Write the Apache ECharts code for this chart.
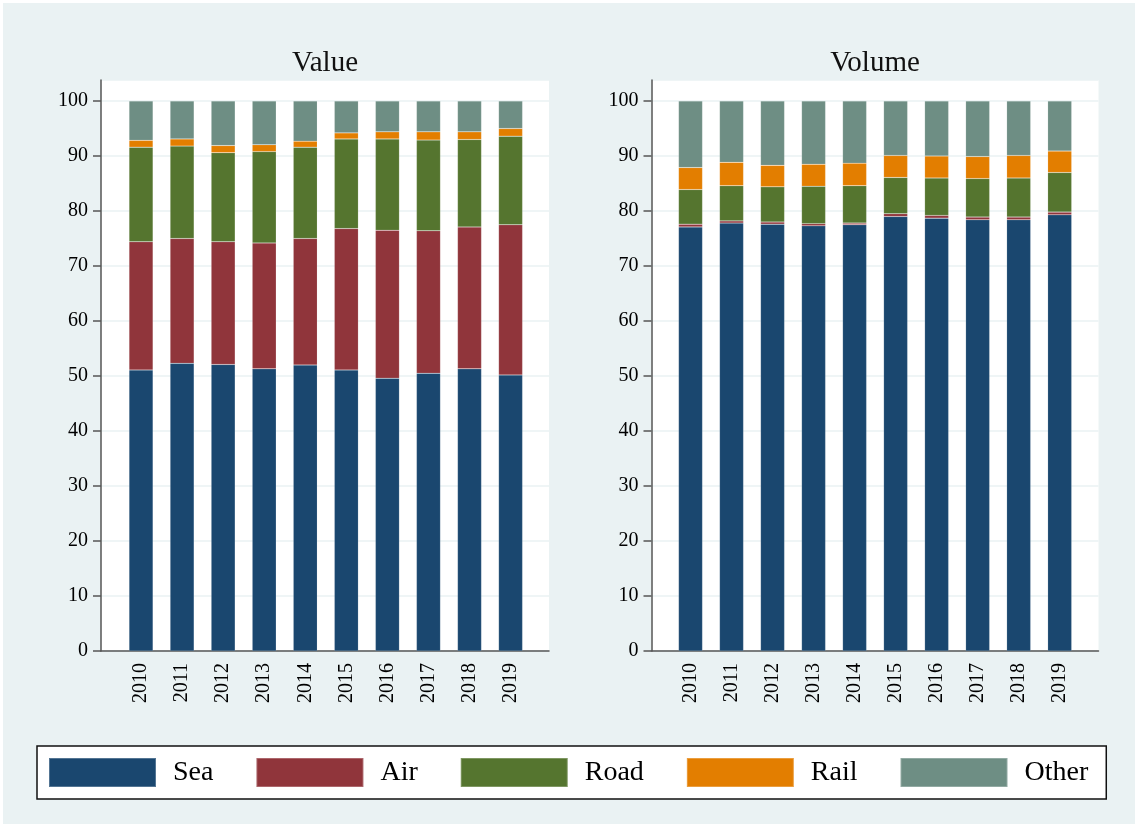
<!DOCTYPE html>
<html>
<head>
<meta charset="utf-8">
<script src="https://cdn.jsdelivr.net/npm/echarts@6/dist/echarts.min.js"></script>
<style>
  html, body { margin: 0; padding: 0; background: #ffffff; }
  #chart { position: absolute; left: 3px; top: 3px; width: 1132px; height: 821px; background: #eaf2f3; }
</style>
</head>
<body>
<div id="chart"></div>
<script>
// ---- data (shares, %) ----
var years = ['2010', '2011', '2012', '2013', '2014', '2015', '2016', '2017', '2018', '2019'];
var modes = ['Sea', 'Air', 'Road', 'Rail', 'Other'];
var yTicks = [0, 10, 20, 30, 40, 50, 60, 70, 80, 90, 100];

var valueSea   = [51.1, 52.3, 52.1, 51.3, 52.0, 51.1, 49.6, 50.5, 51.3, 50.2];
var valueAir   = [23.3, 22.7, 22.3, 22.9, 23.0, 25.7, 26.9, 25.9, 25.8, 27.3];
var valueRoad  = [17.2, 16.8, 16.2, 16.6, 16.6, 16.3, 16.6, 16.5, 15.9, 16.1];
var valueRail  = [1.25, 1.3, 1.3, 1.25, 1.1, 1.1, 1.3, 1.5, 1.4, 1.4];
var valueOther = [7.15, 6.9, 8.1, 7.95, 7.3, 5.8, 5.6, 5.6, 5.6, 5.0];

var volumeSea   = [77.1, 77.8, 77.6, 77.3, 77.5, 79.0, 78.7, 78.4, 78.4, 79.3];
var volumeAir   = [0.5, 0.4, 0.4, 0.4, 0.3, 0.5, 0.5, 0.5, 0.5, 0.5];
var volumeRoad  = [6.3, 6.4, 6.4, 6.8, 6.8, 6.6, 6.8, 7.0, 7.1, 7.2];
var volumeRail  = [4.0, 4.25, 3.9, 4.0, 4.1, 4.0, 4.0, 4.0, 4.1, 3.9];
var volumeOther = [12.1, 11.15, 11.7, 11.5, 11.3, 9.9, 10.0, 10.1, 9.9, 9.1];

var colors = ['#1a476f', '#90353b', '#55752f', '#e37e00', '#6e8e84'];

// ---- layout ----
var FONT = '"Liberation Serif", "DejaVu Serif", serif';
var AXIS_COLOR = '#555555';
var GRID_COLOR = '#eaf2f3';
var plotTop = 77, plotBottom = 648;         // frame (white plot region)
var dataTop = 98;                           // y = 100 position
var frameMax = 100 * (plotBottom - plotTop) / (plotBottom - dataTop);

var panels = [
  { title: 'Value',  frameLeft: 98,    frameWidth: 448, dataLeft: 117.5, dataWidth: 410.6,
    data: [valueSea, valueAir, valueRoad, valueRail, valueOther] },
  { title: 'Volume', frameLeft: 648.5, frameWidth: 447, dataLeft: 667,   dataWidth: 410.2,
    data: [volumeSea, volumeAir, volumeRoad, volumeRail, volumeOther] }
];

var grids = [], xAxes = [], yAxes = [], series = [], titles = [];

panels.forEach(function (p, pi) {
  var fi = pi * 2, di = pi * 2 + 1;
  grids.push({ left: p.frameLeft, width: p.frameWidth, top: plotTop, height: plotBottom - plotTop,
               show: true, backgroundColor: '#ffffff', borderWidth: 0 });
  grids.push({ left: p.dataLeft, width: p.dataWidth, top: dataTop, height: plotBottom - dataTop,
               show: false });

  xAxes.push({ gridIndex: fi, type: 'value', min: 0, max: 1,
    axisLine: { show: true, lineStyle: { color: AXIS_COLOR, width: 1.5 } },
    axisTick: { show: false }, axisLabel: { show: false }, splitLine: { show: false } });
  xAxes.push({ gridIndex: di, type: 'category', data: years, boundaryGap: true,
    axisLine: { show: false }, axisTick: { show: false }, splitLine: { show: false },
    axisLabel: { rotate: 90, margin: 12, fontFamily: FONT, fontSize: 20, color: '#000000', interval: 0 } });

  yAxes.push({ gridIndex: fi, type: 'value', min: 0, max: frameMax, interval: 10,
    axisLine: { show: true, lineStyle: { color: AXIS_COLOR, width: 1.5 } },
    axisTick: { show: false }, axisLabel: { show: false },
    splitLine: { show: true, lineStyle: { color: GRID_COLOR, width: 1.5 } } });
  yAxes.push({ gridIndex: di, type: 'value', min: 0, max: 100, interval: 10,
    offset: p.dataLeft - p.frameLeft,
    axisLine: { show: false },
    axisTick: { show: true, length: 8, lineStyle: { color: AXIS_COLOR, width: 1.5 } },
    axisLabel: { margin: 13, fontFamily: FONT, fontSize: 20, color: '#000000' },
    splitLine: { show: false } });

  titles.push({ text: p.title, left: p.frameLeft + p.frameWidth / 2, top: 46, textAlign: 'center',
    padding: 0, textStyle: { fontFamily: FONT, fontSize: 29, fontWeight: 'normal', color: '#111111' } });

  modes.forEach(function (m, mi) {
    series.push({ name: m, type: 'bar', stack: 'p' + pi, xAxisIndex: di, yAxisIndex: di,
      data: p.data[mi], barWidth: 24, color: colors[mi],
      itemStyle: { color: colors[mi], borderColor: 'rgba(255,255,255,0.25)', borderWidth: 0.5 },
      emphasis: { disabled: true }, animation: false });
  });
});

var chart = echarts.init(document.getElementById('chart'), null, { renderer: 'canvas' });
chart.setOption({
  backgroundColor: 'transparent',
  animation: false,
  title: titles,
  grid: grids,
  xAxis: xAxes,
  yAxis: yAxes,
  legend: {
    data: modes,
    left: 34, top: 743,
    orient: 'horizontal',
    padding: [11, 18, 11, 11],
    itemWidth: 107, itemHeight: 29, itemGap: 42,
    icon: 'rect',
    backgroundColor: '#ffffff',
    borderColor: '#111111', borderWidth: 1.5, borderRadius: 0,
    selectedMode: false,
    textStyle: { fontFamily: FONT, fontSize: 28, color: '#000000', padding: [2, 0, 0, 12] }
  },
  series: series
});
</script>
</body>
</html>
